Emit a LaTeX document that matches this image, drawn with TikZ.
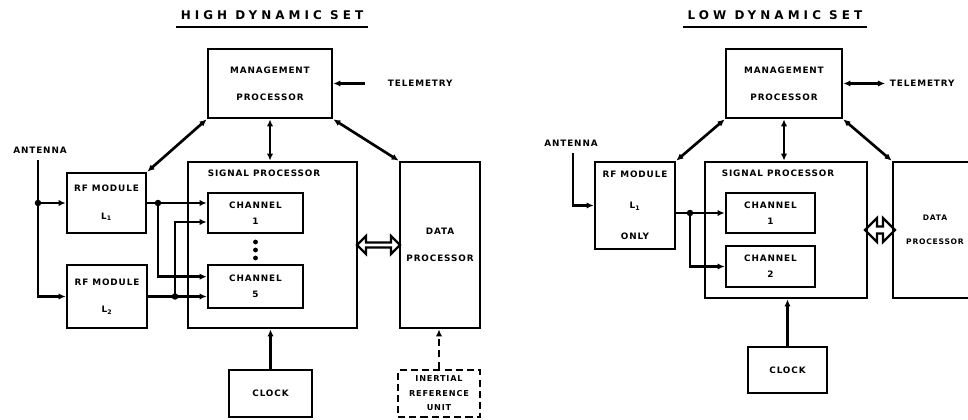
\documentclass[tikz,border=0pt]{standalone}
\usepackage{fontspec}
\newfontfamily\boxfont{DejaVu Sans}[LetterSpace=10]
\newfontfamily\headfont{DejaVu Sans}[LetterSpace=34]
\usetikzlibrary{arrows.meta,positioning,calc,shapes.arrows}

\begin{document}
\begin{tikzpicture}[x=0.025cm,y=-0.025cm,>={Latex[length=5pt,width=4.5pt]},
  every node/.style={font=\boxfont\bfseries\fontsize{6.3}{19.5}\selectfont,align=center},
  blk/.style={draw,line width=1.9pt,inner sep=0pt},
  tight/.style={font=\boxfont\bfseries\fontsize{6.3}{11.5}\selectfont},
  link/.style={line width=1.9pt},
  bus/.style={double arrow,draw,line width=1.6pt,inner sep=0pt,double arrow head extend=2pt},
  head/.style={font=\headfont\bfseries\fontsize{8.5}{10}\selectfont}]
\clip (0,0) rectangle (968,420);
% high dynamic set
\node[head] (ttl1) at (272,15) {HIGH DYNAMIC SET};
\draw[line width=1.5pt] ([yshift=-2pt]ttl1.south west) -- ([yshift=-2pt]ttl1.south east);
\node[blk,minimum width=3.1cm,minimum height=1.725cm] (mgt1) at (270,83.5) {MANAGEMENT\\PROCESSOR};
\node[anchor=west] (tel1) at (383,83.5) {TELEMETRY};
\coordinate (telend1) at (365,83.5);
\node (ant1) at (40,150) {ANTENNA};
\coordinate (anttop1) at (38,160);
\node[blk,minimum width=1.975cm,minimum height=1.5cm] (rf1) at (106.5,203) {RF MODULE\\L\textsubscript{1}};
\node[blk,minimum width=2cm,minimum height=1.575cm] (rf2) at (107,296.5) {RF MODULE\\L\textsubscript{2}};
\node[blk,minimum width=4.225cm,minimum height=4.15cm] (sig1) at (272.5,245) {};
\node (siglab1) at (264,173) {SIGNAL PROCESSOR};
\node[blk,tight,minimum width=2.375cm,minimum height=1cm] (chan1) at (255.5,213) {CHANNEL\\1};
\node[blk,tight,minimum width=2.375cm,minimum height=1.075cm] (chan5) at (255.5,286.5) {CHANNEL\\5};
\node[blk,minimum width=2cm,minimum height=4.15cm] (data1) at (440,245) {DATA\\PROCESSOR};
\node[bus,minimum height=1.075cm,minimum width=0.45cm] (bus1) at ($(sig1.east)!0.5!(data1.west)$) {};
\node[blk,minimum width=2.075cm,minimum height=1.175cm] (clk1) at (270.5,393.5) {CLOCK};
\node[blk,font=\boxfont\bfseries\fontsize{5.8}{10.3}\selectfont,dash pattern=on 5pt off 3pt,minimum width=2.05cm,minimum height=1.175cm] (iru) at (439,393.5) {INERTIAL\\REFERENCE\\UNIT};
\foreach \y in {242,250,258} \fill (255.5,\y) circle (1.7pt);
\coordinate (jant1) at (38,203);
\coordinate (j1) at (158,203);
\coordinate (j2) at (175,296.5);
\draw[link,<-] (mgt1.east) -- (telend1);
\draw[link,->] (anttop1) |- (rf2.west);
\draw[link,->] (jant1) -- (rf1.west);
\draw[link,->] (rf1.east) -- (rf1.east -| chan1.west);
\draw[link,->] (j1) |- ([yshift=7pt]chan5.west);
\draw[link,->] (rf2.east) -- (rf2.east -| chan5.west);
\draw[link,->] (j2) |- ([yshift=-6.4pt]chan1.west);
\foreach \j in {jant1,j1,j2} \fill (\j) circle (2.3pt);
\draw[link,<->] (mgt1.south west) -- (rf1.north east);
\draw[link,<->] (mgt1.south) -- (mgt1.south |- sig1.north);
\draw[link,<->] (mgt1.south east) -- (data1.north west);
\draw[link,->] (clk1.north) -- (clk1.north |- sig1.south);
\draw[link,->,dash pattern=on 5pt off 3pt] (iru.north) -- (iru.north |- data1.south);
% low dynamic set
\node[head] (ttl2) at (775,15) {LOW DYNAMIC SET};
\draw[line width=1.5pt] ([yshift=-2pt]ttl2.south west) -- ([yshift=-2pt]ttl2.south east);
\node[blk,minimum width=2.9cm,minimum height=1.725cm] (mgt2) at (784,83.5) {MANAGEMENT\\PROCESSOR};
\node[anchor=west] (tel2) at (885,83.5) {TELEMETRY};
\node (ant2) at (571,143) {ANTENNA};
\coordinate (anttop2) at (573,153);
\node[blk,font=\boxfont\bfseries\fontsize{6.3}{22}\selectfont,minimum width=2cm,minimum height=2.175cm] (rf3) at (635,205.5) {RF MODULE\\L\textsubscript{1}\\ONLY};
\node[blk,minimum width=4.05cm,minimum height=3.4cm] (sig2) at (786,230) {};
\node (siglab2) at (778,173) {SIGNAL PROCESSOR};
\node[blk,tight,minimum width=2.225cm,minimum height=1cm] (chan2a) at (770.5,213) {CHANNEL\\1};
\node[blk,tight,minimum width=2.225cm,minimum height=1.025cm] (chan2b) at (770.5,266.5) {CHANNEL\\2};
\node[blk,font=\boxfont\bfseries\fontsize{5.4}{17}\selectfont,minimum width=2.1cm,minimum height=3.4cm] (data2) at (935,230) {DATA\\PROCESSOR};
\node[bus,minimum height=0.75cm,minimum width=0.6cm] (bus2) at ($(sig2.east)!0.5!(data2.west)$) {};
\node[blk,minimum width=1.975cm,minimum height=1.15cm] (clk2) at (787.5,370) {CLOCK};
\coordinate (j3) at (690,213);
\draw[link,<->] (mgt2.east) -- (tel2.west);
\draw[link,->] (anttop2) |- (rf3.west);
\draw[link,->] (rf3.east |- chan2a.west) -- (chan2a.west);
\draw[link,->] (j3) |- (chan2b.west);
\fill (j3) circle (2.3pt);
\draw[link,<->] (mgt2.south west) -- (rf3.north east);
\draw[link,<->] (mgt2.south) -- (mgt2.south |- sig2.north);
\draw[link,<->] (mgt2.south east) -- (data2.north west);
\draw[link,->] (clk2.north) -- (clk2.north |- sig2.south);
\end{tikzpicture}
\end{document}
